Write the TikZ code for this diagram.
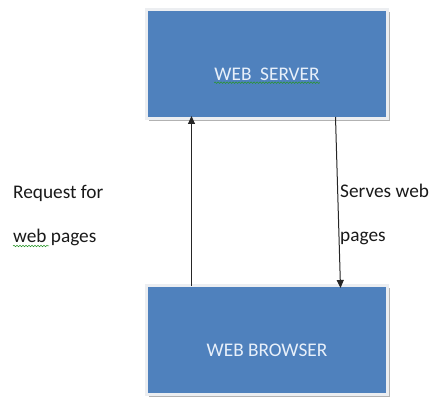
\documentclass[tikz,border=0pt]{standalone}
\usepackage{fontspec}
\setmainfont{Carlito}
\usepackage{xcolor}
\definecolor{boxblue}{RGB}{79, 129, 189}
\definecolor{boxedge}{RGB}{236, 238, 241}
\definecolor{boxtxt}{RGB}{232, 240, 250}
\definecolor{squig}{RGB}{40, 150, 40}
\usetikzlibrary{arrows.meta,shadows,decorations.pathmorphing}

\tikzset{
    webbox/.style={rectangle, fill=boxblue, draw=boxedge, line width=3pt,
        minimum width=241pt, minimum height=109pt, inner sep=0pt,
        drop shadow={shadow xshift=2.5pt, shadow yshift=-2.5pt, fill=black!30, opacity=1}},
    boxtext/.style={inner sep=0pt, text=boxtxt, font=\fontsize{19.3}{23}\selectfont},
    note/.style={inner sep=0pt, anchor=base west, text=black!90, font=\fontsize{19.3}{23}\selectfont},
    squiggle/.style={squig, line width=0.5pt, decorate,
        decoration={snake, amplitude=0.8pt, segment length=3pt}},
    flow/.style={-{Triangle[length=8pt, width=7pt]}, line width=1pt, black!85},
}

\begin{document}
\begin{tikzpicture}[x=1pt, y=-1pt]
    \useasboundingbox (0,0) rectangle (434,398);

    % Boxes
    \node[webbox] (server) at (267,64) {};
    \node[webbox] (browser) at (267,340) {};
    \node[boxtext] (srvtext) at ([yshift=-10pt]server.center) {WEB\ \ SERVER};
    \node[boxtext] (brwtext) at ([yshift=-10pt]browser.center) {WEB BROWSER};
    \draw[squiggle] ([yshift=-2.5pt]srvtext.base west) -- ([yshift=-2.5pt]srvtext.base east);

    % Arrows
    \draw[flow] ([xshift=46.5pt, yshift=-2pt]browser.north west) -- ([xshift=46.5pt, yshift=4pt]server.south west);
    \draw[flow] ([xshift=190.5pt, yshift=3pt]server.south west) -- ([xshift=195.5pt, yshift=-4pt]browser.north west);

    % Labels
    \node[note] (req1) at (13,199) {Request for};
    \node[note] (req2) at (13,243) {web pages};
    \draw[squiggle] ([yshift=-3pt]req2.base west) -- ([xshift=36pt, yshift=-3pt]req2.base west);
    \node[note] (srv1) at (340,198) {Serves web};
    \node[note] (srv2) at (340,242) {pages};
\end{tikzpicture}
\end{document}
